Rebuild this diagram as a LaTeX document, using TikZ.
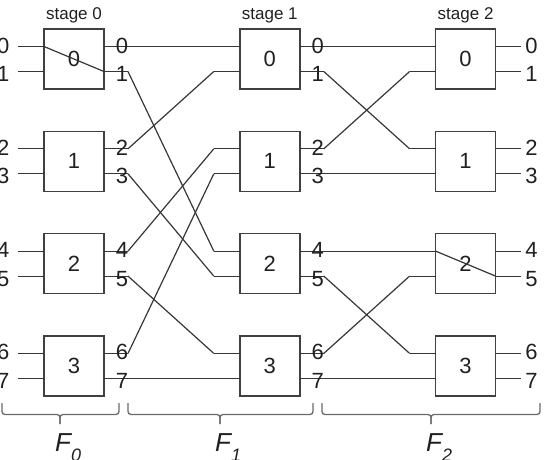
\documentclass[tikz,border=0pt]{standalone}
\usepackage{fontspec}
\setmainfont{Liberation Sans}
\definecolor{wirec}{HTML}{363636}
\definecolor{boxc}{HTML}{404040}
\definecolor{txtc}{HTML}{202020}
\definecolor{bracec}{HTML}{6A6A6A}
\tikzset{
  box/.style={draw=boxc, line width=1.4pt, minimum width=60pt, minimum height=60pt,
              inner sep=0pt, text=txtc, font=\fontsize{22}{22}\selectfont},
  wire/.style={draw=wirec, line width=1.2pt},
  lbl/.style={inner sep=0pt, text=txtc, font=\fontsize{22}{22}\selectfont},
  stg/.style={inner sep=0pt, text=txtc, font=\fontsize{17}{17}\selectfont},
  brc/.style={draw=bracec, line width=1.3pt, rounded corners=3pt},
  flbl/.style={inner sep=0pt, text=txtc, anchor=base west},
}
\newcommand{\flabel}[1]{{\fontsize{26}{26}\selectfont\itshape F}\raisebox{-10pt}{\fontsize{18}{18}\selectfont\itshape #1}}
\begin{document}
\begin{tikzpicture}[x=1pt,y=-1pt]
\useasboundingbox (0,0) rectangle (546,459);
% boxes, ports, stubs, labels
\foreach \s in {0,1,2} {
  \pgfmathsetmacro{\xc}{74+195.8*\s}
  \node[stg] (st\s) at (\xc,15) {stage \s};
  \foreach \r in {0,1,2,3} {
    \pgfmathsetmacro{\yc}{59+102.3*\r}
    \node[box] (b\s\r) at (\xc,\yc) {\r};
    \foreach \k in {0,1} {
      \pgfmathtruncatemacro{\p}{2*\r+\k}
      \pgfmathsetmacro{\py}{\yc+25*\k-12.5}
      \pgfmathsetmacro{\ly}{\py+3.5*\k-1}
      \coordinate (A\s-\p) at (\xc-56,\py);
      \coordinate (L\s-\p) at (\xc-30,\py);
      \coordinate (R\s-\p) at (\xc+30,\py);
      \coordinate (B\s-\p) at (\xc+54,\py);
      \coordinate (E\s-\p) at (\xc+55,\py);
      \draw[wire] (A\s-\p) -- (L\s-\p);
      \ifnum\s=2
        \draw[wire] (R\s-\p) -- (E\s-\p);
        \node[lbl] (o\s-\p) at (\xc+66,\ly) {\p};
      \else
        \draw[wire] (R\s-\p) -- (B\s-\p);
        \node[lbl] (o\s-\p) at (\xc+48,\ly) {\p};
      \fi
      \ifnum\s=0
        \node[lbl, anchor=east] (i\p) at (9.5,\ly) {\p};
      \fi
    }
  }
}
% internal crossings
\draw[wire] (L0-0) -- (R0-1);
\draw[wire] (L2-4) -- (R2-5);
% stage 0 -> stage 1
\draw[wire] (B0-0) -- (A1-0);
\draw[wire] (B0-1) -- (A1-4);
\draw[wire] (B0-2) -- (A1-1);
\draw[wire] (B0-3) -- (A1-5);
\draw[wire] (B0-4) -- (A1-2);
\draw[wire] (B0-5) -- (A1-6);
\draw[wire] (B0-6) -- (A1-3);
\draw[wire] (B0-7) -- (A1-7);
% stage 1 -> stage 2
\draw[wire] (B1-0) -- (A2-0);
\draw[wire] (B1-1) -- (A2-2);
\draw[wire] (B1-2) -- (A2-1);
\draw[wire] (B1-3) -- (A2-3);
\draw[wire] (B1-4) -- (A2-4);
\draw[wire] (B1-5) -- (A2-6);
\draw[wire] (B1-6) -- (A2-5);
\draw[wire] (B1-7) -- (A2-7);
% braces
\foreach \a/\t/\b/\i in {2/60/119/0, 128/220/313/1, 322/431/540/2} {
  \coordinate (bl\i) at (\a,403);
  \coordinate (bt\i) at (\t,424);
  \coordinate (br\i) at (\b,403);
  \draw[brc] (bl\i) -- (\a,414.5) -- (\t,414.5) -- (bt\i);
  \draw[brc] (bt\i) -- (\t,414.5) -- (\b,414.5) -- (br\i);
  \node[flbl] (F\i) at (\t-5,451) {\flabel{\i}};
}
\end{tikzpicture}
\end{document}
